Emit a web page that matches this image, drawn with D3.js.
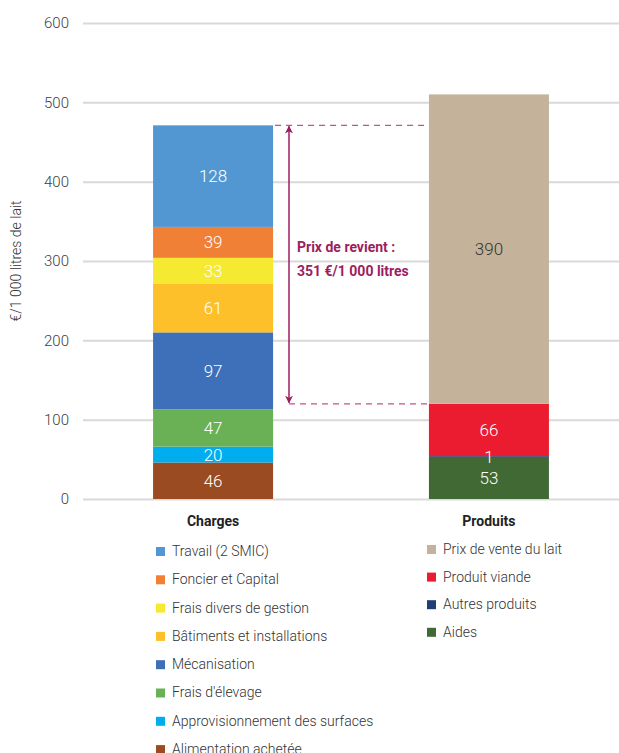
<!DOCTYPE html>
<html>
<head>
<meta charset="utf-8">
<script src="https://cdn.jsdelivr.net/npm/d3@7"></script>
<style>
body { margin: 0; background: #fff; }
text { font-family: Roboto, "Noto Sans", sans-serif; }
</style>
</head>
<body>
<div id="chart"></div>
<script>
var categories = ["Charges", "Produits"];

var chargeSeries = ["Alimentation achetée", "Approvisionnement des surfaces", "Frais d'élevage",
    "Mécanisation", "Bâtiments et installations", "Frais divers de gestion", "Foncier et Capital", "Travail (2 SMIC)"];
var chargeValues = [46, 20, 47, 97, 61, 33, 39, 128];
var chargeColors = ["#9a4b21", "#00aeef", "#6ab155", "#3d70b8", "#fdbf2a", "#f5e932", "#f08036", "#5297d1"];

var produitSeries = ["Aides", "Autres produits", "Produit viande", "Prix de vente du lait"];
var produitValues = [53, 1, 66, 390];
var produitColors = ["#416934", "#1f3e78", "#eb1c2f", "#c4b39a"];

var yTicks = [0, 100, 200, 300, 400, 500, 600];
var costLabel = ["Prix de revient :", "351 €/1 000 litres"];

var width = 619, height = 753;
var margin = {top: 23, left: 83, right: 0};
var plotBottom = 499;

var svg = d3.select("#chart").append("svg")
    .attr("width", width)
    .attr("height", height);

var y = d3.scaleLinear()
    .domain([0, 600])
    .range([plotBottom, margin.top]);

var x = d3.scaleBand()
    .domain(categories)
    .range([83, 619])
    .paddingInner(0.565)
    .paddingOuter(0.254);

// grid + ticks
svg.append("g")
    .attr("transform", "translate(" + margin.left + ",0)")
    .call(d3.axisLeft(y).tickValues(yTicks).tickSize(-(width - margin.left)).tickPadding(14))
    .call(g => g.select(".domain").remove())
    .call(g => g.selectAll(".tick line").attr("stroke", "#d9d9d9").attr("stroke-width", 2))
    .call(g => g.selectAll(".tick text").attr("fill", "#404040").style("font-size", "15px").style("font-weight", 300));

svg.append("text")
    .attr("transform", "translate(21," + y(300) + ") rotate(-90)")
    .attr("text-anchor", "middle")
    .style("font-size", "14px")
    .style("font-weight", 300)
    .attr("fill", "#333")
    .text("€/1 000 litres de lait");

function drawStack(cat, values, colors, darkIndex) {
    var bx = x(cat);
    var bw = x.bandwidth();
    var cum = 0;
    var segs = values.map(function(v, i) {
        var s = {y0: cum, y1: cum + v, v: v, color: colors[i], i: i};
        cum += v;
        return s;
    });
    var g = svg.append("g");
    g.selectAll("rect")
        .data(segs)
        .enter().append("rect")
        .attr("x", bx)
        .attr("width", bw)
        .attr("y", d => y(d.y1))
        .attr("height", d => y(d.y0) - y(d.y1))
        .attr("fill", d => d.color);
    g.selectAll("text")
        .data(segs)
        .enter().append("text")
        .attr("x", bx + bw / 2)
        .attr("y", d => y((d.y0 + d.y1) / 2))
        .attr("dy", "0.36em")
        .attr("text-anchor", "middle")
        .style("font-size", "17px")
        .style("font-weight", 300)
        .attr("fill", d => d.i === darkIndex ? "#333" : "#fff")
        .text(d => d.v);
    svg.append("text")
        .attr("x", bx + bw / 2)
        .attr("y", 526)
        .attr("text-anchor", "middle")
        .style("font-size", "14px")
        .style("font-weight", "bold")
        .attr("fill", "#222")
        .text(cat);
    return cum;
}

var chargeTotal = drawStack("Charges", chargeValues, chargeColors, -1);
var produitTotal = drawStack("Produits", produitValues, produitColors, 3);

// prix de revient arrow
var base = d3.sum(produitValues.slice(0, 3));
var ax = 289;
var accent = "#9b1e5f";
var dashColor = "#c8508e";
var barRight = x("Charges") + x.bandwidth();

svg.append("line")
    .attr("x1", barRight + 2).attr("x2", x("Produits"))
    .attr("y1", y(chargeTotal)).attr("y2", y(chargeTotal))
    .attr("stroke", dashColor).attr("stroke-width", 1.3).attr("stroke-dasharray", "6,5");
svg.append("line")
    .attr("x1", ax).attr("x2", x("Produits"))
    .attr("y1", y(base)).attr("y2", y(base))
    .attr("stroke", dashColor).attr("stroke-width", 1.3).attr("stroke-dasharray", "6,5");

svg.append("defs").append("marker")
    .attr("id", "arr")
    .attr("viewBox", "0 0 10 10")
    .attr("refX", 9).attr("refY", 5)
    .attr("markerWidth", 8).attr("markerHeight", 8)
    .attr("orient", "auto-start-reverse")
    .attr("markerUnits", "userSpaceOnUse")
    .append("path")
    .attr("d", "M0,0 L10,5 L0,10 L3,5 Z")
    .attr("fill", accent);

svg.append("line")
    .attr("x1", ax).attr("x2", ax)
    .attr("y1", y(chargeTotal) + 1).attr("y2", y(base) - 1)
    .attr("stroke", accent).attr("stroke-width", 1.5)
    .attr("marker-start", "url(#arr)")
    .attr("marker-end", "url(#arr)");

svg.selectAll(".cost")
    .data(costLabel)
    .enter().append("text")
    .attr("x", 297)
    .attr("y", (d, i) => 252 + i * 24)
    .style("font-size", "14px")
    .style("font-weight", "bold")
    .attr("fill", accent)
    .text(d => d);

// legends
function legend(series, colors, lx, ly, step) {
    var items = series.slice().reverse();
    var cols = colors.slice().reverse();
    var g = svg.append("g");
    var row = g.selectAll("g")
        .data(items)
        .enter().append("g")
        .attr("transform", (d, i) => "translate(" + lx + "," + (ly + i * step) + ")");
    row.append("rect")
        .attr("x", 0).attr("y", -4)
        .attr("width", 9).attr("height", 9)
        .attr("fill", (d, i) => cols[i]);
    row.append("text")
        .attr("x", 16)
        .attr("dy", "0.35em")
        .style("font-size", "14px")
        .style("font-weight", 300)
        .attr("fill", "#333")
        .text(d => d);
}
legend(chargeSeries, chargeColors, 156, 551, 28.3);
legend(produitSeries, produitColors, 427, 549, 27.6);
</script>
</body>
</html>
